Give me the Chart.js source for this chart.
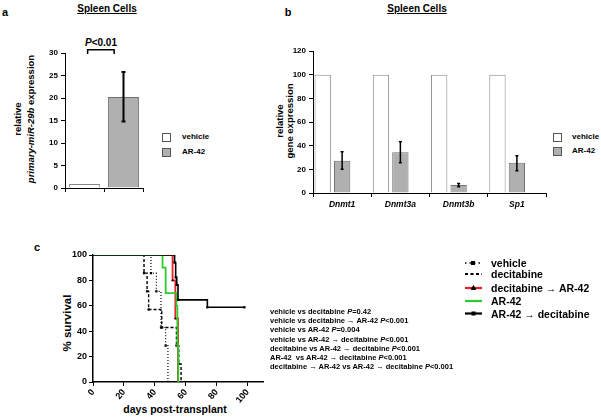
<!DOCTYPE html>
<html><head><meta charset="utf-8">
<script src="https://cdn.jsdelivr.net/npm/chart.js@4.4.1/dist/chart.umd.min.js"></script>
<style>
html,body{margin:0;padding:0;background:#fff}
body{width:601px;height:418px;overflow:hidden;position:relative;font-family:Arial,"Liberation Sans",sans-serif;font-weight:bold;color:#000;-webkit-font-smoothing:antialiased}
canvas{position:absolute}
.t{position:absolute;white-space:nowrap;line-height:1;transform:translate(-50%,-50%)}
.l{position:absolute;white-space:nowrap;line-height:1;transform:translate(0,-50%)}
.r{position:absolute;white-space:nowrap;line-height:1;transform:translate(-50%,-50%) rotate(-90deg)}
.box{position:absolute;width:7px;height:7px;border:1px solid #555}
#stats{position:absolute;left:270px;top:307px;font-size:7.5px;line-height:9.2px;white-space:nowrap;color:#000;will-change:transform;background:#fff}
</style></head><body>

<!-- panel letters and titles -->
<div class="t" style="left:5px;top:12px;font-size:11px">a</div>
<div class="t" style="left:288px;top:12px;font-size:11px">b</div>
<div class="t" style="left:37px;top:247px;font-size:11px">c</div>
<div class="t" style="left:107px;top:9px;font-size:10px;text-decoration:underline">Spleen Cells</div>
<div class="t" style="left:417px;top:9px;font-size:10px;text-decoration:underline">Spleen Cells</div>

<!-- panel a texts -->
<div class="t" style="left:101px;top:43px;font-size:10px"><i>P</i>&lt;0.01</div>
<div class="r" style="left:18px;top:119px;font-size:9.5px">relative</div>
<div class="r" style="left:31px;top:119px;font-size:9.5px"><i>primary-miR-29b</i> expression</div>
<div class="box" style="left:162px;top:133px;background:#fff"></div>
<div class="box" style="left:162px;top:148px;background:#b0b0b0"></div>
<div class="l" style="left:182px;top:137px;font-size:8px">vehicle</div>
<div class="l" style="left:182px;top:152px;font-size:8px">AR-42</div>

<!-- panel b texts -->
<div class="r" style="left:280px;top:121px;font-size:9.5px">relative</div>
<div class="r" style="left:290px;top:121px;font-size:9.5px">gene expression</div>
<div class="box" style="left:553px;top:133px;background:#fff"></div>
<div class="box" style="left:553px;top:147px;background:#b0b0b0"></div>
<div class="l" style="left:572px;top:137px;font-size:8px">vehicle</div>
<div class="l" style="left:572px;top:151px;font-size:8px">AR-42</div>

<!-- panel c texts -->
<div class="r" style="left:68px;top:323px;font-size:11.5px">% survival</div>
<div class="t" style="left:175px;top:409px;font-size:10.5px">days post-transplant</div>

<div id="stats"></div>

<svg style="position:absolute;left:0;top:0" width="601" height="418">
  <g stroke="#000" fill="#000">
    <line x1="465" y1="263" x2="482" y2="263" stroke-width="1.5" stroke-dasharray="1.5,3"/>
    <rect x="471.5" y="261.5" width="3" height="3"/>
    <line x1="465" y1="274" x2="482" y2="274" stroke-width="2" stroke-dasharray="3,2.5"/>
    <line x1="465" y1="288" x2="482" y2="288" stroke="#ee1c24" stroke-width="2.2"/>
    <polygon points="473.5,285.5 471.3,289.5 475.7,289.5"/>
    <line x1="465" y1="301" x2="482" y2="301" stroke="#2dcc2d" stroke-width="2.2"/>
    <line x1="465" y1="313.5" x2="482" y2="313.5" stroke-width="2.2"/>
    <rect x="472" y="312" width="3" height="3"/>
  </g>
</svg>
<div class="l" style="left:491px;top:263px;font-size:10.5px">vehicle</div>
<div class="l" style="left:491px;top:274px;font-size:10.5px">decitabine</div>
<div class="l" style="left:491px;top:288px;font-size:10.5px">decitabine → AR-42</div>
<div class="l" style="left:491px;top:301px;font-size:10.5px">AR-42</div>
<div class="l" style="left:491px;top:313.5px;font-size:10.5px">AR-42 → decitabine</div>

<canvas id="ca" width="200" height="200" style="left:0;top:0"></canvas>
<canvas id="cb" width="310" height="215" style="left:250px;top:0"></canvas>
<canvas id="cc" width="240" height="165" style="left:40px;top:240px"></canvas>

<script>
// ---- Panel a data ----
const catsA = ['vehicle', 'AR-42'];
const valsA = [0.9, 20.2];
const errLowA = [null, 14.8];
const errHighA = [null, 25.8];
const ticksA = [0, 5, 10, 15, 20, 25, 30];

// ---- Panel b data ----
const genesB = ['Dnmt1', 'Dnmt3a', 'Dnmt3b', 'Sp1'];
const vehicleB = [100, 100, 100, 100];
const ar42B = [27.3, 34.4, 6.8, 25.6];
const ar42LowB = [20.0, 25.6, 5.2, 18.8];
const ar42HighB = [34.9, 43.4, 8.0, 31.5];
const blankB = [0.4, 0.4, 0, 0];
const ticksB = [0, 20, 40, 60, 80, 100, 120];

// ---- Panel c data (Kaplan-Meier steps) ----
const vehDays = [0, 37.5, 41, 44, 47, 48.5];
const vehSurv = [100, 85.7, 71.4, 42.9, 28.6, 0];
const decDays = [0, 33, 35, 36, 44.5, 54, 55.5, 57];
const decSurv = [100, 85.7, 71.4, 57.1, 42.9, 28.6, 14.3, 0];
const decArDays = [0, 51.5, 53.3, 55];
const decArSurv = [100, 80, 50, 0];
const arDays = [0, 45, 47, 54, 54.6, 55.2];
const arSurv = [100, 90, 70, 60, 28.6, 0];
const arDecDays = [0, 52.8, 53.5, 54.2, 55, 74, 98];
const arDecSurv = [100, 94.1, 82.4, 76.5, 64.7, 58.8, 58.8];

const statLines = [
  'vehicle vs decitabine <i>P</i>=0.42',
  'vehicle vs decitabine → AR-42 <i>P</i>&lt;0.001',
  'vehicle vs AR-42 <i>P</i>=0.004',
  'vehicle vs AR-42 → decitabine <i>P</i>&lt;0.001',
  'decitabine vs AR-42 → decitabine <i>P</i>&lt;0.001',
  'AR-42&nbsp; vs AR-42 → decitabine <i>P</i>&lt;0.001',
  'decitabine → AR-42 vs AR-42 → decitabine <i>P</i>&lt;0.001'
];
document.getElementById('stats').innerHTML = statLines.join('<br>');

Chart.defaults.font.family = 'Arial, "Liberation Sans", sans-serif';
Chart.defaults.font.weight = 'bold';
Chart.defaults.color = '#000';
Chart.defaults.animation = false;
Chart.defaults.responsive = false;
Chart.defaults.devicePixelRatio = 1;
Chart.defaults.plugins.legend.display = false;
Chart.defaults.plugins.tooltip.enabled = false;

function axisGrid() {
  return { display: true, drawOnChartArea: false, drawTicks: true, tickLength: 4, color: '#000', lineWidth: 1 };
}
function errPlugin(id, dsIndex, lows, highs, cap, lw) {
  return {
    id: id,
    afterDatasetsDraw(chart) {
      const meta = chart.getDatasetMeta(dsIndex);
      const ys = chart.scales.y, ctx = chart.ctx;
      ctx.save();
      ctx.strokeStyle = '#000';
      ctx.lineWidth = lw;
      meta.data.forEach((bar, i) => {
        if (lows[i] == null) return;
        const x = bar.x, y1 = ys.getPixelForValue(lows[i]), y2 = ys.getPixelForValue(highs[i]);
        ctx.beginPath();
        ctx.moveTo(x, y1); ctx.lineTo(x, y2);
        ctx.moveTo(x - cap, y1); ctx.lineTo(x + cap, y1);
        ctx.moveTo(x - cap, y2); ctx.lineTo(x + cap, y2);
        ctx.stroke();
      });
      ctx.restore();
    }
  };
}

// ---- Chart a ----
new Chart(document.getElementById('ca'), {
  type: 'bar',
  data: {
    labels: catsA,
    datasets: [{
      data: valsA,
      backgroundColor: ['#ffffff', '#b0b0b0'],
      borderColor: ['#8a8a8a', '#707070'],
      borderWidth: 1,
      barPercentage: 0.8,
      categoryPercentage: 1
    }]
  },
  options: {
    layout: { padding: { left: 0, top: 53, right: 57, bottom: 0 } },
    scales: {
      x: {
        grid: axisGrid(), border: { color: '#000', width: 1 },
        ticks: { callback: () => '' },
        afterFit: s => { s.height = 12; }
      },
      y: {
        min: 0, max: 30,
        afterBuildTicks: s => { s.ticks = ticksA.map(v => ({ value: v })); },
        grid: axisGrid(), border: { color: '#000', width: 1 },
        ticks: { font: { size: 8, weight: 'bold' }, padding: 3 },
        afterFit: s => { s.width = 65; }
      }
    }
  },
  plugins: [errPlugin('errA', 0, errLowA, errHighA, 2, 2), {
    id: 'bracket',
    afterDraw(chart) {
      const xs = chart.scales.x, ys = chart.scales.y, ctx = chart.ctx;
      const x1 = xs.getPixelForValue(0.08), x2 = xs.getPixelForValue(0.76);
      const yt = ys.getPixelForValue(30.7), yb = ys.getPixelForValue(29.8);
      ctx.save();
      ctx.strokeStyle = '#000'; ctx.lineWidth = 1.5;
      ctx.beginPath();
      ctx.moveTo(x1, yb); ctx.lineTo(x1, yt); ctx.lineTo(x2, yt); ctx.lineTo(x2, yb);
      ctx.stroke();
      ctx.restore();
    }
  }]
});

// ---- Chart b ----
new Chart(document.getElementById('cb'), {
  type: 'bar',
  data: {
    labels: genesB,
    datasets: [
      { label: 'vehicle', data: vehicleB, backgroundColor: '#ffffff', borderColor: '#8a8a8a', borderWidth: 1, barPercentage: 0.84, categoryPercentage: 1 },
      { label: 'AR-42', data: ar42B, backgroundColor: '#b0b0b0', borderColor: '#707070', borderWidth: 1, barPercentage: 0.84, categoryPercentage: 1 },
      { label: '', data: blankB, backgroundColor: '#444', borderColor: '#444', borderWidth: 0, barPercentage: 0.3, categoryPercentage: 1 }
    ]
  },
  options: {
    layout: { padding: { left: 0, top: 51, right: 14, bottom: 0 } },
    scales: {
      x: {
        grid: axisGrid(), border: { color: '#000', width: 1 },
        ticks: { font: { size: 8.5, weight: 'bold', style: 'italic' }, padding: 3, maxRotation: 0 },
        afterFit: s => { s.height = 22; }
      },
      y: {
        min: 0, max: 120,
        afterBuildTicks: s => { s.ticks = ticksB.map(v => ({ value: v })); },
        grid: axisGrid(), border: { color: '#000', width: 1 },
        ticks: { font: { size: 8, weight: 'bold' }, padding: 3 },
        afterFit: s => { s.width = 63; }
      }
    }
  },
  plugins: [errPlugin('errB', 1, ar42LowB, ar42HighB, 1.5, 1.5)]
});

// ---- Chart c ----
function pts(d, s) { return d.map((x, i) => ({ x: x, y: s[i] })); }
const rad = c => c.dataIndex === 0 ? 0 : 1.6;
new Chart(document.getElementById('cc'), {
  type: 'line',
  data: {
    datasets: [
      { label: 'AR-42 → decitabine', data: pts(arDecDays, arDecSurv), borderColor: '#000', borderWidth: 1.6, stepped: true, pointStyle: 'rect', pointRadius: rad, pointBackgroundColor: '#000', pointBorderWidth: 0 },
      { label: 'AR-42', data: pts(arDays, arSurv), borderColor: '#2dcc2d', borderWidth: 1.8, stepped: true, pointRadius: 0 },
      { label: 'decitabine → AR-42', data: pts(decArDays, decArSurv), borderColor: '#ee1c24', borderWidth: 1.8, stepped: true, pointStyle: 'triangle', pointRadius: rad, pointBackgroundColor: '#000', pointBorderWidth: 0 },
      { label: 'decitabine', data: pts(decDays, decSurv), borderColor: '#000', borderWidth: 1.4, borderDash: [3, 2], stepped: true, pointStyle: 'rect', pointRadius: rad, pointBackgroundColor: '#000', pointBorderWidth: 0 },
      { label: 'vehicle', data: pts(vehDays, vehSurv), borderColor: '#000', borderWidth: 1.2, borderDash: [1, 2], stepped: true, pointStyle: 'rect', pointRadius: rad, pointBackgroundColor: '#000', pointBorderWidth: 0 }
    ]
  },
  options: {
    layout: { padding: { left: 0, top: 15, right: 17, bottom: 0 } },
    scales: {
      x: {
        type: 'linear', min: 0, max: 110,
        ticks: { stepSize: 10, font: { size: 9, weight: 'bold' }, padding: 1, callback: v => (v % 20 === 0 && v <= 100) ? v : '' },
        grid: axisGrid(), border: { color: '#000', width: 1.5 },
        afterFit: s => { s.height = 23; }
      },
      y: {
        min: 0, max: 100,
        ticks: { stepSize: 20, font: { size: 9, weight: 'bold' }, padding: 2 },
        grid: axisGrid(), border: { color: '#000', width: 1.5 },
        afterFit: s => { s.width = 53; }
      }
    }
  }
});
</script>
</body></html>
